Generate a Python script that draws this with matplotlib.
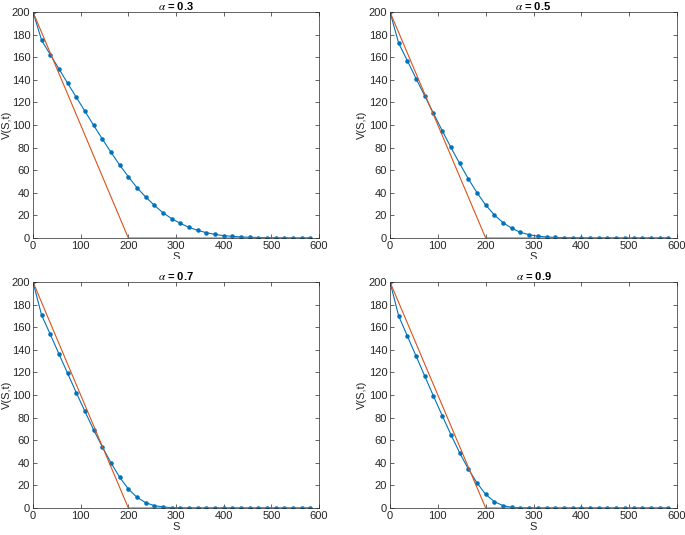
import numpy as np
import matplotlib
matplotlib.use('Agg')
from matplotlib import pyplot as plt
from matplotlib.patches import Rectangle

# Grid of asset prices: 33 nodes from 0 to 600 (step 600/33)
S = np.arange(33) * 600 / 33
K = 200
payoff = np.maximum(K - S, 0)

alphas = [0.3, 0.5, 0.7, 0.9]

# Option values (same grid as S)
V_03 = [200, 174.9, 162.2, 149.6, 136.9, 124.5, 112.1, 99.7, 87.6, 75.8, 64.6,
        54.3, 44.5, 36.3, 28.9, 22.4, 17.1, 13.0, 9.4, 6.8, 4.7, 3.2, 2.1, 1.5,
        0.9, 0.6, 0.4, 0.25, 0.15, 0.1, 0.05, 0.02, 0.0]
V_05 = [200, 172.3, 156.9, 141.0, 125.7, 110.3, 95.0, 80.2, 66.1, 52.5, 40.1,
        29.2, 20.4, 13.6, 8.6, 5.0, 2.9, 1.6, 0.9, 0.5, 0.3, 0.2, 0.1, 0.05,
        0.02, 0.01, 0, 0, 0, 0, 0, 0, 0]
V_07 = [200, 170.5, 153.6, 136.2, 119.1, 101.9, 85.4, 69.1, 54.1, 39.9, 27.2,
        16.8, 9.5, 4.7, 2.1, 0.9, 0.3, 0.1, 0.03, 0, 0, 0, 0, 0,
        0, 0, 0, 0, 0, 0, 0, 0, 0]
V_09 = [200, 169.9, 152.1, 134.4, 116.7, 99.0, 81.8, 65.0, 49.0, 34.6, 22.2,
        12.1, 5.6, 2.1, 0.6, 0.2, 0.05, 0, 0, 0, 0, 0, 0, 0,
        0, 0, 0, 0, 0, 0, 0, 0, 0]
values = [V_03, V_05, V_07, V_09]

plt.rcParams['font.family'] = ['Liberation Sans', 'DejaVu Sans']
plt.rcParams['font.size'] = 8
plt.rcParams['mathtext.fontset'] = 'stix'

W, H = 685, 535
fig = plt.figure(figsize=(W / 100, H / 100), dpi=100)

# axes boxes in pixels: (left, top, right, bottom)
boxes = [(33, 12, 319, 238), (390, 12, 677, 238),
         (33, 282, 319, 508), (390, 282, 677, 508)]
# ylabel centre x in pixels
ylab_x = [7, 362, 7, 362]

grey = '#262626'
for (l, t, r, b), yx, a, V in zip(boxes, ylab_x, alphas, values):
    ax = fig.add_axes([l / W, 1 - b / H, (r - l) / W, (b - t) / H])
    ax.plot(S, V, color='#0072BD', lw=0.8, marker='.', ms=4.5)
    ax.plot(S, payoff, color='#D95319', lw=0.8)
    ax.set_xlim(0, 600)
    ax.set_ylim(0, 200)
    ax.set_xticks(range(0, 601, 100))
    ax.set_yticks(range(0, 201, 20))
    ax.tick_params(direction='in', top=True, right=True, length=3, width=0.5,
                   colors=grey, labelcolor=grey, pad=2)
    for sp in ax.spines.values():
        sp.set_color(grey)
        sp.set_linewidth(0.5)
    ax.set_title(r'$\alpha$ = ' + f'{a}', fontweight='bold', fontsize=8, pad=1.5)
    ax.set_ylabel('V(S,t)', color=grey, va='center')
    ax.yaxis.set_label_coords((yx - l) / (r - l), 0.5)
    ax.set_xlabel('S', color=grey, labelpad=1)

# the top row's "S" labels are cut off in the original
fig.add_artist(Rectangle((0, 1 - 265 / H), 1, 6 / H, transform=fig.transFigure,
                         facecolor='white', edgecolor='none', zorder=5))

fig.savefig('out.png', dpi=100)
